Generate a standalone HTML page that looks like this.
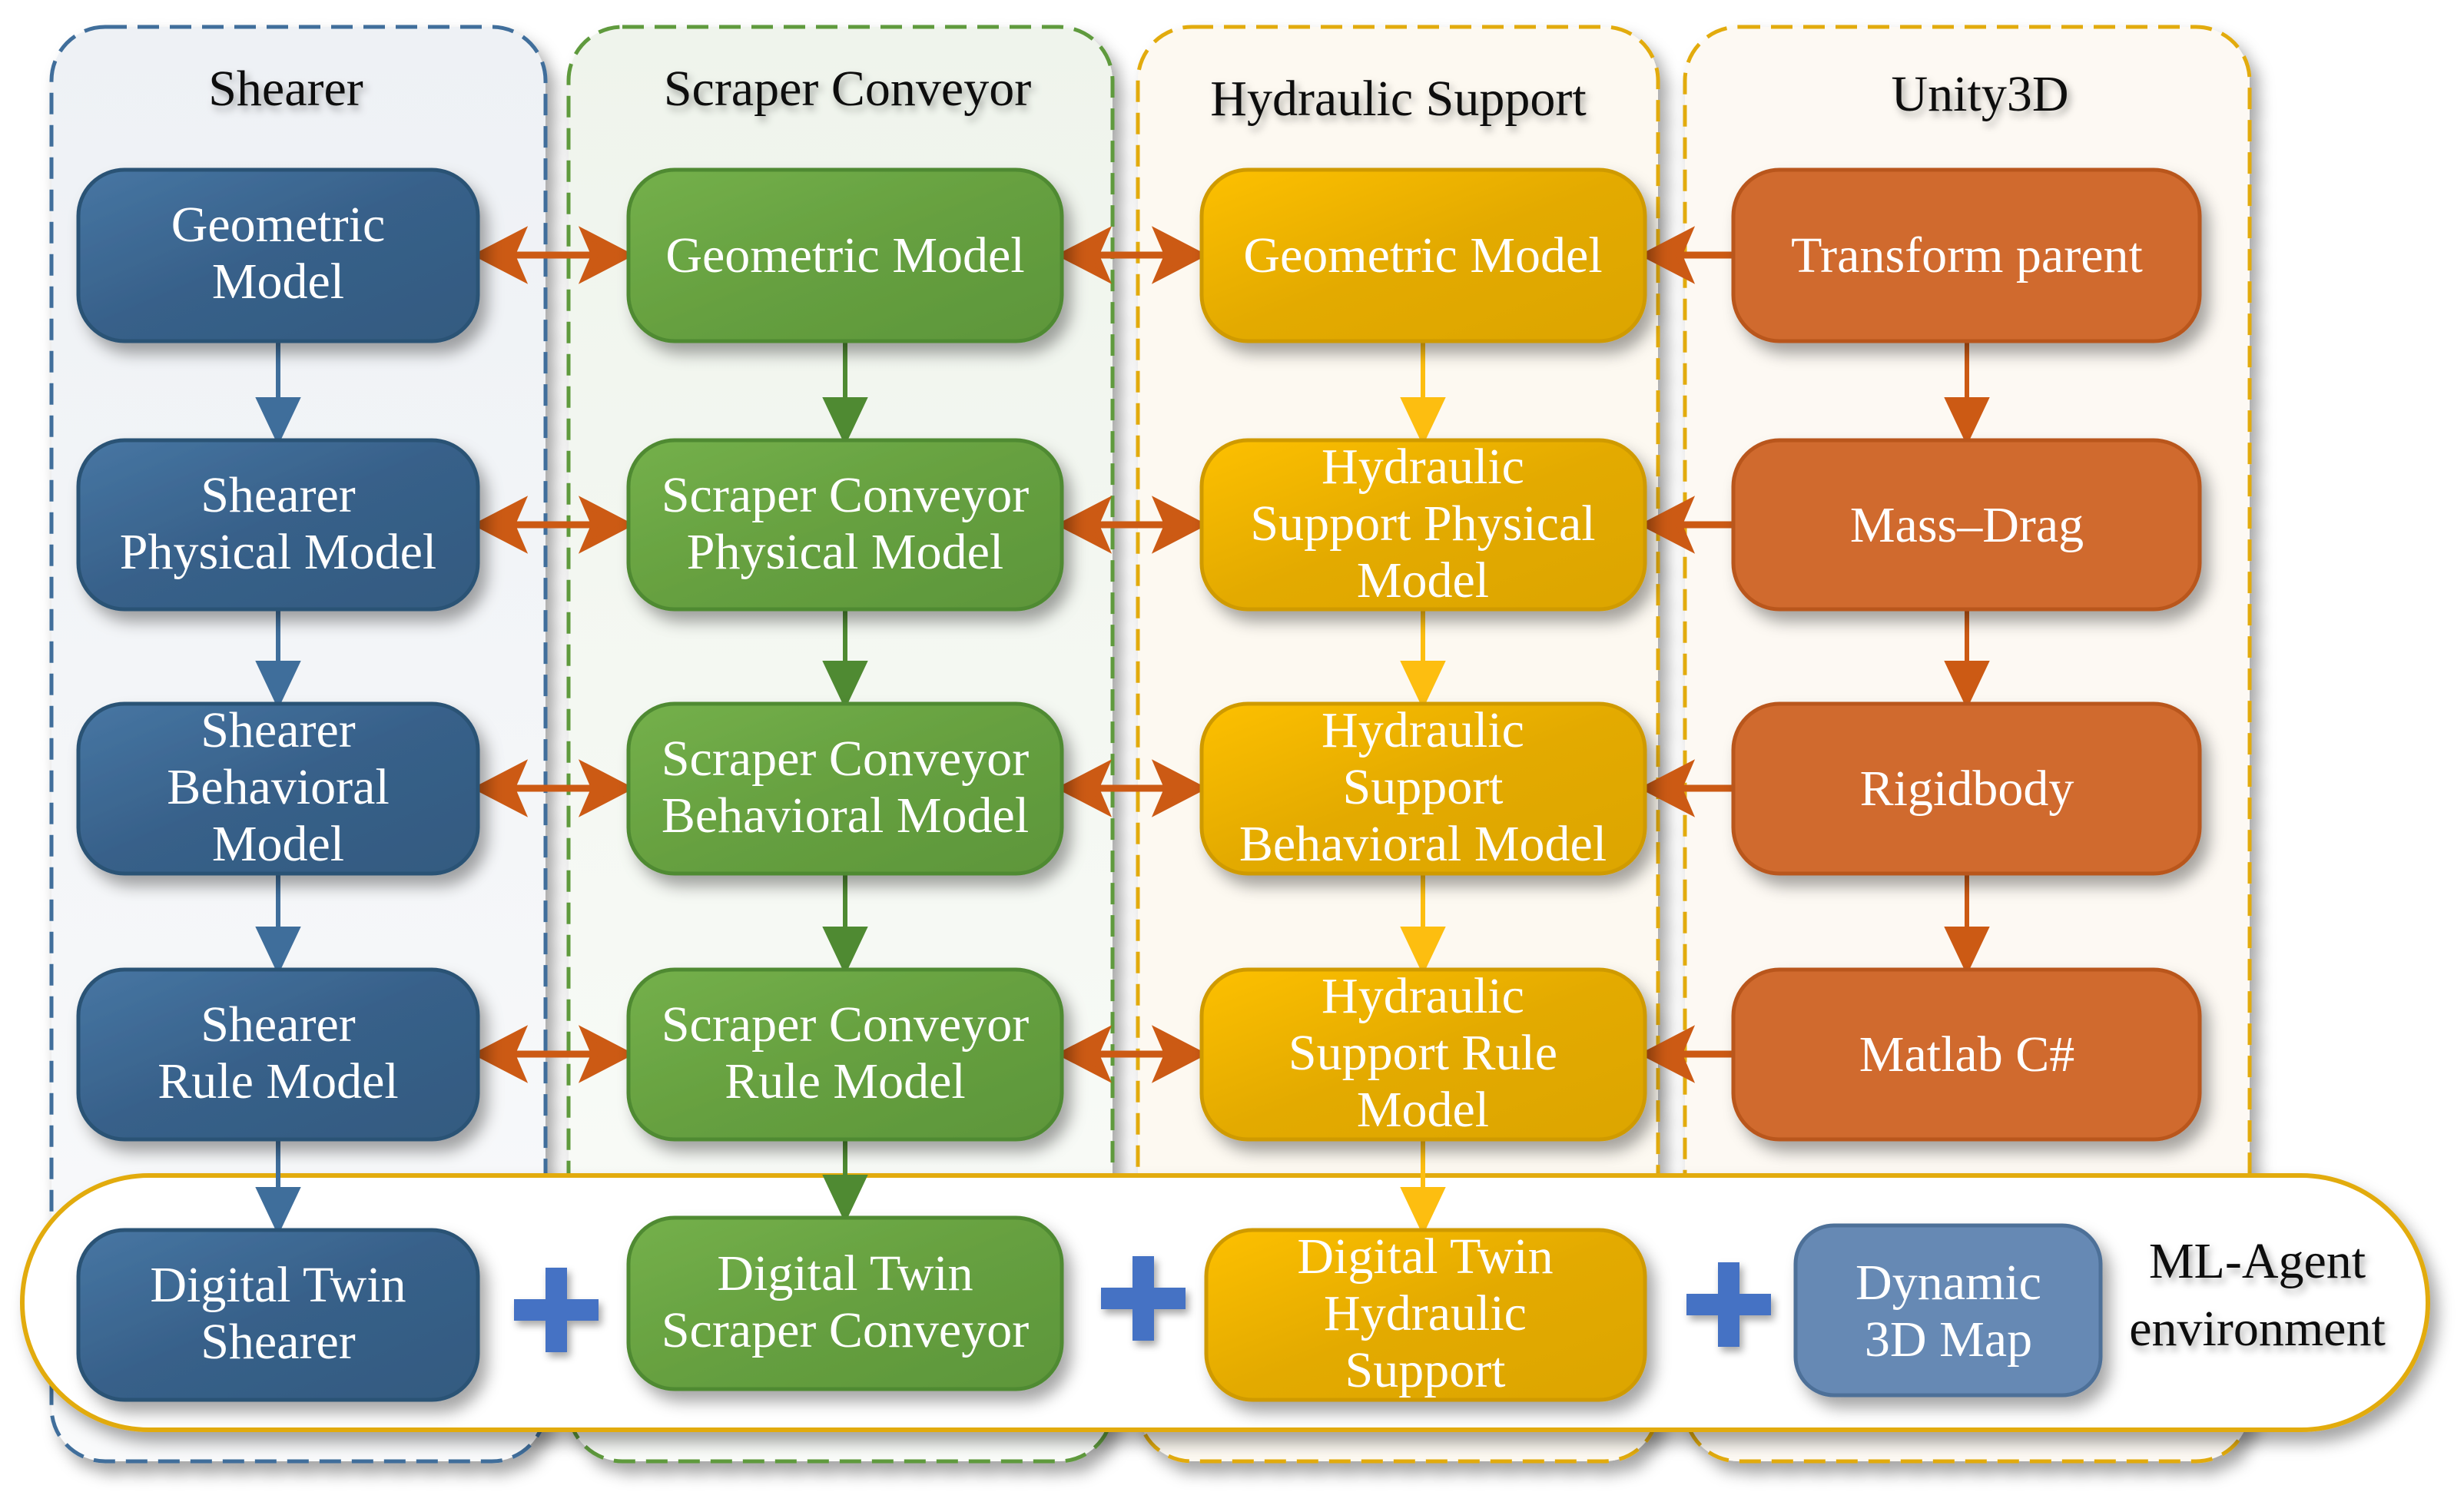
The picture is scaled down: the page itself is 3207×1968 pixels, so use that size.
<!DOCTYPE html>
<html><head><meta charset="utf-8"><style>html,body{margin:0;padding:0;background:#fff}svg{display:block}</style></head><body>
<svg xmlns="http://www.w3.org/2000/svg" width="3207" height="1968" viewBox="0 0 3207 1968">
<defs>
<filter id="sh" x="-20%" y="-20%" width="150%" height="150%"><feDropShadow dx="10" dy="14" stdDeviation="10" flood-color="#000" flood-opacity="0.35"/></filter>
<filter id="ts" x="-10%" y="-30%" width="130%" height="170%"><feDropShadow dx="4" dy="6" stdDeviation="5" flood-color="#000" flood-opacity="0.35"/></filter>
<linearGradient id="gb" x1="0" y1="0" x2="1" y2="1"><stop offset="0" stop-color="#4776a3"/><stop offset="0.5" stop-color="#376089"/><stop offset="1" stop-color="#335a80"/></linearGradient>
<linearGradient id="gg" x1="0" y1="0" x2="1" y2="1"><stop offset="0" stop-color="#74b04a"/><stop offset="0.5" stop-color="#66a040"/><stop offset="1" stop-color="#5d963a"/></linearGradient>
<linearGradient id="gy" x1="0" y1="0" x2="1" y2="1"><stop offset="0" stop-color="#fdc000"/><stop offset="0.5" stop-color="#e3aa00"/><stop offset="1" stop-color="#dca500"/></linearGradient>
<linearGradient id="gbk" x1="0" y1="0" x2="0" y2="1"><stop offset="0" stop-color="#eef1f5"/><stop offset="1" stop-color="#f9fafb"/></linearGradient>
<linearGradient id="ggk" x1="0" y1="0" x2="0" y2="1"><stop offset="0" stop-color="#eff4ec"/><stop offset="1" stop-color="#fafcf9"/></linearGradient>
</defs>
<g filter="url(#sh)">
<rect x="67" y="35" width="643" height="1867" rx="70" fill="url(#gbk)" stroke="#3f6e9b" stroke-width="5" stroke-dasharray="28 14"/>
<rect x="740" y="35" width="708" height="1867" rx="70" fill="url(#ggk)" stroke="#5e9a3c" stroke-width="5" stroke-dasharray="28 14"/>
<rect x="1481" y="35" width="677" height="1867" rx="70" fill="#fdf9f1" stroke="#e2ab10" stroke-width="5" stroke-dasharray="28 14"/>
<rect x="2193" y="35" width="735" height="1867" rx="70" fill="#fdf9f3" stroke="#e2ab10" stroke-width="5" stroke-dasharray="28 14"/>
</g>
<g font-family="'Liberation Serif',serif" font-size="66" text-anchor="middle" fill="#111" filter="url(#ts)">
<text x="372" y="137">Shearer</text>
<text x="1103" y="137">Scraper Conveyor</text>
<text x="1820" y="150">Hydraulic Support</text>
<text x="2577" y="144">Unity3D</text>
</g>
<rect x="29" y="1530" width="3131" height="331" rx="165" fill="#fff" stroke="#e2ab10" stroke-width="6" filter="url(#sh)"/>
<g stroke-width="6">
<g stroke="#3f6e9b" fill="#3f6e9b">
<line x1="362" y1="444" x2="362" y2="530"/><path d="M337,520 L387,520 L362,573 z"/>
<line x1="362" y1="793" x2="362" y2="873"/><path d="M337,863 L387,863 L362,916 z"/>
<line x1="362" y1="1137" x2="362" y2="1219"/><path d="M337,1209 L387,1209 L362,1262 z"/>
<line x1="362" y1="1483" x2="362" y2="1558"/><path d="M337,1548 L387,1548 L362,1601 z"/>
</g>
<g stroke="#4f8a32" fill="#4f8a32">
<line x1="1100" y1="444" x2="1100" y2="530"/><path d="M1075,520 L1125,520 L1100,573 z"/>
<line x1="1100" y1="793" x2="1100" y2="873"/><path d="M1075,863 L1125,863 L1100,916 z"/>
<line x1="1100" y1="1137" x2="1100" y2="1219"/><path d="M1075,1209 L1125,1209 L1100,1262 z"/>
<line x1="1100" y1="1483" x2="1100" y2="1542"/><path d="M1075,1532 L1125,1532 L1100,1585 z"/>
</g>
<g stroke="#fdbe10" fill="#fdbe10">
<line x1="1852" y1="444" x2="1852" y2="530"/><path d="M1827,520 L1877,520 L1852,573 z"/>
<line x1="1852" y1="793" x2="1852" y2="873"/><path d="M1827,863 L1877,863 L1852,916 z"/>
<line x1="1852" y1="1137" x2="1852" y2="1219"/><path d="M1827,1209 L1877,1209 L1852,1262 z"/>
<line x1="1852" y1="1483" x2="1852" y2="1558"/><path d="M1827,1548 L1877,1548 L1852,1601 z"/>
</g>
<g stroke="#cc5a14" fill="#cc5a14">
<line x1="2560" y1="444" x2="2560" y2="530"/><path d="M2535,520 L2585,520 L2560,573 z"/>
<line x1="2560" y1="793" x2="2560" y2="873"/><path d="M2535,863 L2585,863 L2560,916 z"/>
<line x1="2560" y1="1137" x2="2560" y2="1219"/><path d="M2535,1209 L2585,1209 L2560,1262 z"/>
</g>
</g>
<g stroke="#cc5a14" stroke-width="9" fill="#cc5a14">
<g id="r1">
<line x1="670" y1="332" x2="770" y2="332"/><path d="M624,332 L678,304 L666,332 L678,360 z"/><path d="M816,332 L762,304 L774,332 L762,360 z"/>
<line x1="1430" y1="332" x2="1516" y2="332"/><path d="M1384,332 L1438,304 L1426,332 L1438,360 z"/><path d="M1562,332 L1508,304 L1520,332 L1508,360 z"/>
<line x1="2256" y1="332" x2="2186" y2="332"/><path d="M2143,332 L2197,304 L2185,332 L2197,360 z"/>
</g>
<use href="#r1" y="351"/><use href="#r1" y="694"/><use href="#r1" y="1040"/>
</g>
<g filter="url(#sh)">
<g fill="url(#gb)" stroke="#2c5275" stroke-width="5">
<rect x="102" y="221" width="520" height="223" rx="60"/><rect x="102" y="573" width="520" height="220" rx="60"/><rect x="102" y="916" width="520" height="221" rx="60"/><rect x="102" y="1262" width="520" height="221" rx="60"/><rect x="102" y="1601" width="520" height="221" rx="60"/>
</g>
<g fill="url(#gg)" stroke="#4f8a32" stroke-width="5">
<rect x="818" y="221" width="564" height="223" rx="60"/><rect x="818" y="573" width="564" height="220" rx="60"/><rect x="818" y="916" width="564" height="221" rx="60"/><rect x="818" y="1262" width="564" height="221" rx="60"/><rect x="818" y="1585" width="564" height="223" rx="60"/>
</g>
<g fill="url(#gy)" stroke="#cf9a00" stroke-width="5">
<rect x="1564" y="221" width="577" height="223" rx="60"/><rect x="1564" y="573" width="577" height="220" rx="60"/><rect x="1564" y="916" width="577" height="221" rx="60"/><rect x="1564" y="1262" width="577" height="221" rx="60"/><rect x="1570" y="1601" width="571" height="221" rx="60"/>
</g>
<g fill="#d06b2d" stroke="#b9561d" stroke-width="5">
<rect x="2256" y="221" width="607" height="223" rx="60"/><rect x="2256" y="573" width="607" height="220" rx="60"/><rect x="2256" y="916" width="607" height="221" rx="60"/><rect x="2256" y="1262" width="607" height="221" rx="60"/>
</g>
<rect x="2337" y="1595" width="397" height="221" rx="50" fill="#6689b4" stroke="#4d6f98" stroke-width="5"/>
</g>
<g fill="#4472c4" filter="url(#ts)">
<rect x="669" y="1691" width="110" height="28"/><rect x="710" y="1650" width="28" height="110"/>
<rect x="1433" y="1676" width="110" height="28"/><rect x="1474" y="1635" width="28" height="110"/>
<rect x="2195" y="1684" width="110" height="28"/><rect x="2236" y="1643" width="28" height="110"/>
</g>
<g font-family="'Liberation Serif',serif" font-size="66" text-anchor="middle" fill="#fff">
<text x="362" y="314">Geometric</text><text x="362" y="388">Model</text>
<text x="362" y="666">Shearer</text><text x="362" y="740">Physical Model</text>
<text x="362" y="972">Shearer</text><text x="362" y="1046">Behavioral</text><text x="362" y="1120">Model</text>
<text x="362" y="1355">Shearer</text><text x="362" y="1429">Rule Model</text>
<text x="362" y="1694">Digital Twin</text><text x="362" y="1768">Shearer</text>
<text x="1100" y="354">Geometric Model</text>
<text x="1100" y="666">Scraper Conveyor</text><text x="1100" y="740">Physical Model</text>
<text x="1100" y="1009">Scraper Conveyor</text><text x="1100" y="1083">Behavioral Model</text>
<text x="1100" y="1355">Scraper Conveyor</text><text x="1100" y="1429">Rule Model</text>
<text x="1100" y="1679">Digital Twin</text><text x="1100" y="1753">Scraper Conveyor</text>
<text x="1852" y="354">Geometric Model</text>
<text x="1852" y="629">Hydraulic</text><text x="1852" y="703">Support Physical</text><text x="1852" y="777">Model</text>
<text x="1852" y="972">Hydraulic</text><text x="1852" y="1046">Support</text><text x="1852" y="1120">Behavioral Model</text>
<text x="1852" y="1318">Hydraulic</text><text x="1852" y="1392">Support Rule</text><text x="1852" y="1466">Model</text>
<text x="1855" y="1657">Digital Twin</text><text x="1855" y="1731">Hydraulic</text><text x="1855" y="1805">Support</text>
<text x="2560" y="354">Transform parent</text>
<text x="2560" y="705">Mass–Drag</text>
<text x="2560" y="1048">Rigidbody</text>
<text x="2560" y="1394">Matlab C#</text>
<text x="2536" y="1691">Dynamic</text><text x="2536" y="1765">3D Map</text>
</g>
<g font-family="'Liberation Serif',serif" font-size="66" text-anchor="middle" fill="#111" filter="url(#ts)">
<text x="2938" y="1663">ML-Agent</text><text x="2938" y="1751">environment</text>
</g>
</svg>
</body></html>
